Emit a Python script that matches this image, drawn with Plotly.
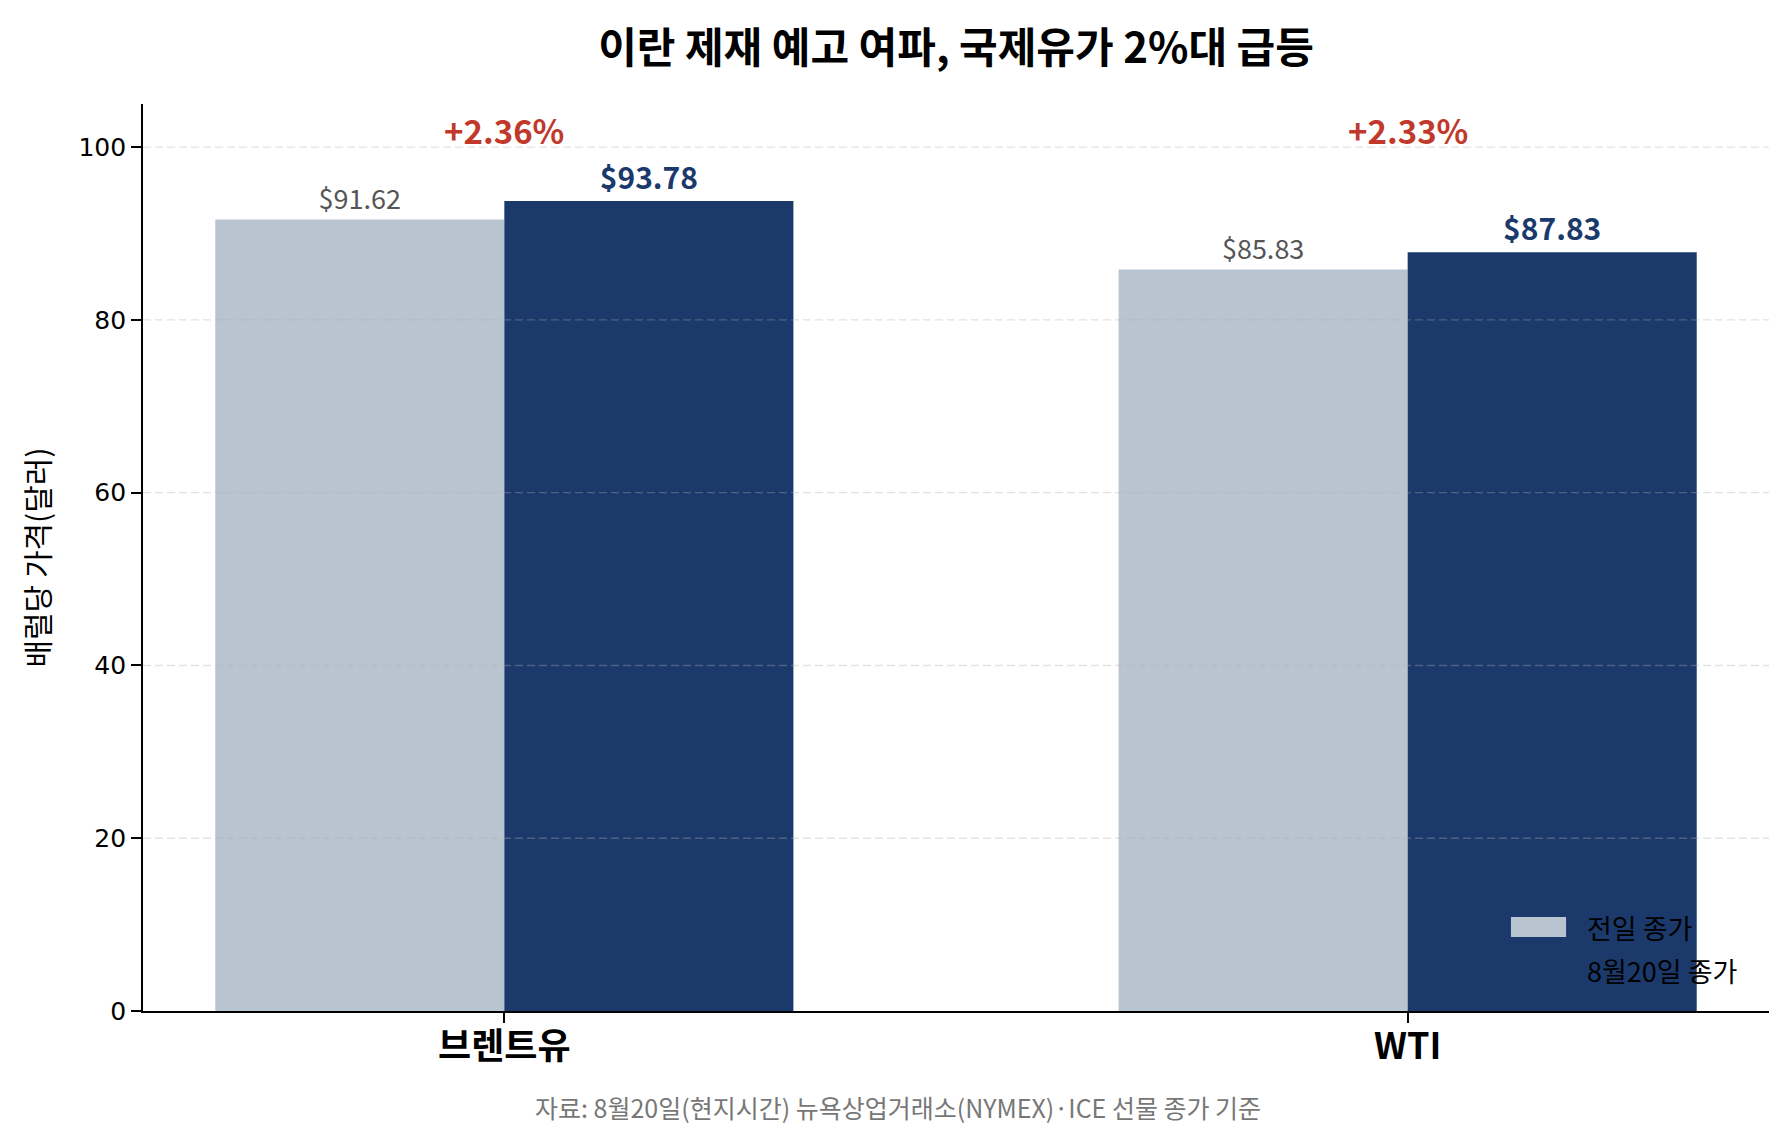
import plotly.graph_objects as go

# data
categories = ["브렌트유", "WTI"]
prev_close = [91.62, 85.83]
curr_close = [93.78, 87.83]
series_names = ["전일 종가", "8월20일 종가"]
y_ticks = [0, 20, 40, 60, 80, 100]

prev_color = "#b8c4d0"
curr_color = "#1b3a6b"
red = "#c0392b"
kr = "Noto Sans CJK KR"

pct = [(c - p) / p * 100 for p, c in zip(prev_close, curr_close)]

fig = go.Figure()
fig.add_trace(go.Bar(
    x=categories, y=prev_close, name=series_names[0],
    marker=dict(color=prev_color, line=dict(width=0)),
    text=["$%.2f" % v for v in prev_close], textposition="outside",
    textfont=dict(family=kr, size=27, color="#555555"),
    cliponaxis=False,
))
fig.add_trace(go.Bar(
    x=categories, y=curr_close, name=series_names[1],
    marker=dict(color=curr_color, line=dict(width=0)),
    text=["$%.2f" % v for v in curr_close], textposition="outside",
    textfont=dict(family=kr, size=30, color=curr_color, weight="bold"),
    cliponaxis=False,
))

# percent change labels
for cat, p in zip(categories, pct):
    fig.add_annotation(x=cat, y=102, text="+%.2f%%" % p, showarrow=False,
                       font=dict(family=kr, size=33, color=red, weight="bold"),
                       xanchor="center", yanchor="middle")

# dashed grid drawn over the bars
for t in y_ticks[1:]:
    fig.add_shape(type="line", xref="paper", x0=0, x1=1, yref="y", y0=t, y1=t,
                  line=dict(color="rgba(176,176,176,0.35)", width=1.3, dash="8px,4px"),
                  layer="above")

# hand-made legend (matplotlib style patches)
legend_rows = [0.0926, 0.0452]
legend_colors = [prev_color, curr_color]
for name, col, yc in zip(series_names, legend_colors, legend_rows):
    fig.add_shape(type="rect", xref="paper", yref="paper",
                  x0=0.8413, x1=0.8752, y0=yc - 0.011, y1=yc + 0.011,
                  fillcolor=col, line=dict(width=0), layer="above")
    fig.add_annotation(xref="paper", yref="paper", x=0.887, y=yc, text=name,
                       showarrow=False, xanchor="left", yanchor="middle",
                       font=dict(family=kr, size=27, color="black"))

# source note
fig.add_annotation(xref="paper", yref="paper", x=0.4643, y=-0.106,
                   text="자료: 8월20일(현지시간) 뉴욕상업거래소(NYMEX)·ICE 선물 종가 기준",
                   showarrow=False, xanchor="center", yanchor="middle",
                   font=dict(family=kr, size=25, color="#777777"))

fig.update_layout(
    width=1780, height=1138,
    paper_bgcolor="white", plot_bgcolor="white",
    margin=dict(l=135, r=19, t=96, b=135),
    barmode="group", bargap=0.36, bargroupgap=0,
    showlegend=False,
    title=dict(text="이란 제재 예고 여파, 국제유가 2%대 급등",
               xref="paper", x=0.5, xanchor="center",
               y=1 - 40 / 1138, yanchor="middle",
               font=dict(family=kr, size=42, color="black", weight="bold")),
    xaxis=dict(type="category", range=[-0.4, 1.4],
               showline=True, linecolor="black", linewidth=1.8,
               ticks="outside", ticklen=10, tickwidth=1.5, tickcolor="black",
               ticklabelstandoff=-7,
               tickfont=dict(family=kr, size=36, color="black", weight="bold"),
               showgrid=False, zeroline=False),
    yaxis=dict(range=[0, 105], tickvals=y_ticks,
               showline=True, linecolor="black", linewidth=1.8,
               ticks="outside", ticklen=10, tickwidth=1.5, tickcolor="black",
               tickfont=dict(family="DejaVu Sans", size=25, color="black"),
               showgrid=False, zeroline=False,
               title=dict(text="배럴당 가격(달러)", standoff=20,
                          font=dict(family=kr, size=30, color="black"))),
)

fig.write_html("out.html")
